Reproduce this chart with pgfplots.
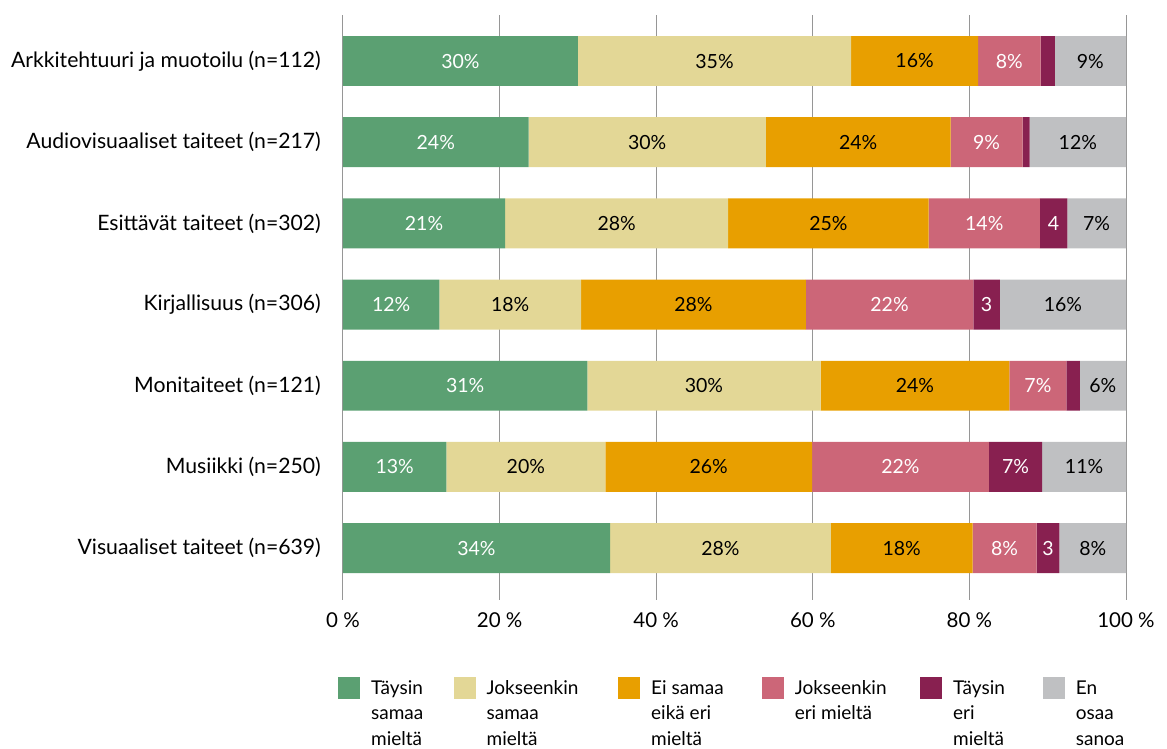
\documentclass[border=0pt]{standalone}
\usepackage{fontspec}
\setmainfont{Lato}
\usepackage{pgfplots}
\pgfplotsset{compat=1.18}
\usepackage{pgfplotstable}
\definecolor{cg}{RGB}{91,160,114}
\definecolor{cb}{RGB}{227,215,150}
\definecolor{co}{RGB}{232,159,0}
\definecolor{cp}{RGB}{204,102,120}
\definecolor{cd}{RGB}{136,32,80}
\definecolor{ce}{RGB}{191,192,194}
\definecolor{grd}{RGB}{150,150,150}

\pgfplotstableread{
y g    gl    b    bl    o    ol    p    pl    d   dl   e    el
1 30.0 30\%  34.9 35\%  16.2 16\%  8.0  8\%   1.8 {}   9.1  9\%
2 23.7 24\%  30.3 30\%  23.6 24\%  9.2  9\%   0.9 {}   12.3 12\%
3 20.7 21\%  28.5 28\%  25.6 25\%  14.2 14\%  3.5 4    7.5  7\%
4 12.3 12\%  18.1 18\%  28.7 28\%  21.4 22\%  3.4 3    16.1 16\%
5 31.2 31\%  29.8 30\%  24.1 24\%  7.3  7\%   1.7 {}   5.9  6\%
6 13.2 13\%  20.3 20\%  26.4 26\%  22.6 22\%  6.8 7\%  10.7 11\%
7 34.1 34\%  28.2 28\%  18.1 18\%  8.2  8\%   2.9 3    8.5  8\%
}\data

\begin{document}
\begin{tikzpicture}[font=\fontsize{18}{22}\selectfont]
\path[use as bounding box] (-343pt,-149pt) rectangle (824pt,600pt);
\begin{axis}[
  at={(0pt,0pt)}, anchor=south west,
  scale only axis, width=783pt, height=585pt,
  xbar stacked, bar width=0.615,
  xmin=0, xmax=100, ymin=0.433, ymax=7.64, y dir=reverse,
  xtick={0,20,40,60,80,100},
  xticklabels={0 \%,20 \%,40 \%,60 \%,80 \%,100 \%},
  ytick={1,2,3,4,5,6,7},
  yticklabels={Arkkitehtuuri ja muotoilu (n=112),Audiovisuaaliset taiteet (n=217),Esittävät taiteet (n=302),Kirjallisuus (n=306),Monitaiteet (n=121),Musiikki (n=250),Visuaaliset taiteet (n=639)},
  xmajorgrids, major grid style={grd, line width=1pt},
  axis line style={draw=none}, major tick length=0pt,
  xticklabel style={anchor=base, inner sep=0pt, yshift=-27pt, font=\fontsize{20.5}{24}\selectfont},
  yticklabel style={anchor=east, inner sep=0pt, xshift=-22pt, font=\fontsize{21.2}{25}\selectfont},
  nodes near coords,
  point meta=explicit symbolic,
  every node near coord/.append style={anchor=center, font=\fontsize{19.5}{22}\selectfont},
  legend image code/.code={\fill[#1,draw=none] (0pt,-5pt) rectangle (22pt,17pt); \path (33pt,0pt);},
  legend columns=6,
  legend style={draw=none, at={(-0.0064,-0.1316)}, anchor=north west, inner sep=0pt,
    font=\fontsize{19}{25.5}\selectfont, cells={anchor=base west},
    nodes={inner sep=0pt}, column sep=0pt},
]
\addplot[fill=cg, draw=none, every node near coord/.append style={text=white}] table[x=g, y=y, meta=gl] {\data};
\addlegendentry{\parbox[t]{82.5pt}{Täysin\\samaa\\mieltä}}
\addplot[fill=cb, draw=none, every node near coord/.append style={text=black}] table[x=b, y=y, meta=bl] {\data};
\addlegendentry{\parbox[t]{131.5pt}{Jokseenkin\\samaa\\mieltä}}
\addplot[fill=co, draw=none, every node near coord/.append style={text=black}] table[x=o, y=y, meta=ol] {\data};
\addlegendentry{\parbox[t]{110.6pt}{Ei samaa\\eikä eri\\mieltä}}
\addplot[fill=cp, draw=none, every node near coord/.append style={text=white}] table[x=p, y=y, meta=pl] {\data};
\addlegendentry{\parbox[t]{125.4pt}{Jokseenkin\\eri mieltä}}
\addplot[fill=cd, draw=none, every node near coord/.append style={text=white}] table[x=d, y=y, meta=dl] {\data};
\addlegendentry{\parbox[t]{89.7pt}{Täysin\\eri\\mieltä}}
\addplot[fill=ce, draw=none, every node near coord/.append style={text=black}] table[x=e, y=y, meta=el] {\data};
\addlegendentry{\parbox[t]{60pt}{En\\osaa\\sanoa}}
\end{axis}
\end{tikzpicture}
\end{document}
